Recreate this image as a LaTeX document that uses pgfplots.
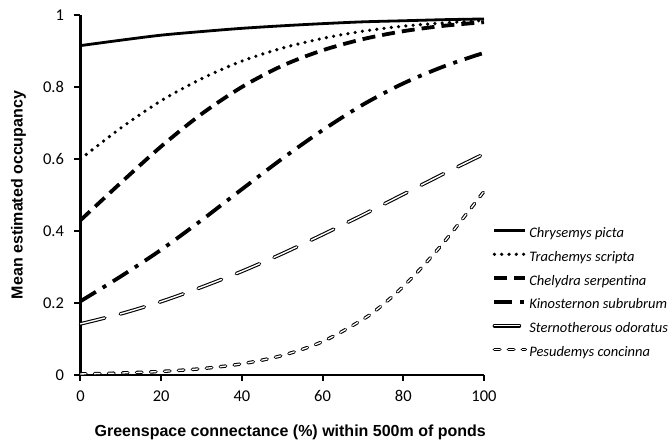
\documentclass[border=0pt]{standalone}
\usepackage{pgfplots}
\pgfplotsset{compat=1.18}
\usepackage{fontspec}
\setmainfont{Carlito}
\newfontfamily\arial{Liberation Sans}
\begin{document}
\begin{tikzpicture}[x=1pt,y=1pt]
\path[use as bounding box] (-80.5pt,-67pt) rectangle (591.5pt,375pt);
\begin{axis}[
  at={(0pt,0pt)}, anchor=south west,
  scale only axis, width=403.5pt, height=360pt,
  xmin=0, xmax=100, ymin=0, ymax=1,
  axis lines*=left,
  axis line style={line width=2.6pt, -},
  xtick={0,20,...,100}, ytick={0,0.2,...,1},
  yticklabels={0,0.2,0.4,0.6,0.8,1},
  tick style={line width=2pt, black},
  tick align=outside, major tick length=6pt,
  /pgf/number format/assume math mode=true,
  tick label style={font=\fontsize{16.5}{18}\selectfont},
  xticklabel style={yshift=-6pt},
  yticklabel style={xshift=-7pt},
  xlabel={\arial\bfseries Greenspace connectance (\%) within 500m of ponds},
  ylabel={\arial\bfseries Mean estimated occupancy},
  label style={font=\fontsize{16}{18}\selectfont},
  xlabel style={at={(0.5,0)}, anchor=center, yshift=-57pt, xshift=8pt},
  ylabel style={at={(0,0.5)}, anchor=center, yshift=62pt},
  clip=false,
  legend style={at={(412pt,148.5pt)}, anchor=north west, draw=none, fill=none,
    font=\fontsize{14.5}{18}\selectfont\itshape, row sep=8.8pt,
    inner sep=0pt, outer sep=0pt,
    nodes={inner sep=0pt, text height=11pt, text depth=4pt},
    cells={anchor=west}},
  legend cell align=left,
  legend image code/.code={\draw[#1] (0pt,3.5pt) -- (31pt,3.5pt);},
]
\addplot[black, line width=2.8pt, smooth] coordinates {(0,0.915)(10,0.930)(20,0.944)(30,0.954)(40,0.963)(50,0.970)(60,0.976)(70,0.981)(80,0.984)(90,0.987)(100,0.989)};
\addlegendentry{\hspace{2pt}Chrysemys picta}
\addplot[black, line width=3.6pt, line cap=round, dash pattern=on 0pt off 7.3pt, smooth] coordinates {(0,0.600)(10,0.686)(20,0.762)(30,0.823)(40,0.872)(50,0.908)(60,0.935)(70,0.955)(80,0.969)(90,0.978)(100,0.985)};
\addlegendentry{\hspace{2pt}Trachemys scripta}
\addplot[black, line width=3.8pt, dash pattern=on 13pt off 7pt, smooth] coordinates {(0,0.430)(10,0.534)(20,0.635)(30,0.725)(40,0.800)(50,0.859)(60,0.902)(70,0.933)(80,0.955)(90,0.970)(100,0.980)};
\addlegendentry{\hspace{2pt}Chelydra serpentina}
\addplot[black, line width=3.8pt, dash pattern=on 18pt off 8pt on 4pt off 8pt, smooth] coordinates {(0,0.205)(10,0.274)(20,0.348)(30,0.430)(40,0.516)(50,0.601)(60,0.680)(70,0.751)(80,0.810)(90,0.857)(100,0.895)};
\addlegendentry{\hspace{2pt}Kinosternon subrubrum}
\addplot[black, line width=3.6pt, line cap=round, dash pattern=on 25pt off 16pt, smooth,
  postaction={draw=white, line width=1.4pt, line cap=round, dash pattern=on 25pt off 16pt}] coordinates {(0,0.142)(10,0.170)(20,0.204)(30,0.244)(40,0.288)(50,0.337)(60,0.390)(70,0.445)(80,0.502)(90,0.559)(100,0.614)};
\addlegendentry{\hspace{2pt}Sternotherous odoratus}
\addplot[black, line width=3.4pt, line cap=round, dash pattern=on 5.5pt off 8.5pt, smooth,
  postaction={draw=white, line width=1.3pt, line cap=round, dash pattern=on 5.5pt off 8.5pt}] coordinates {(0,0.003)(10,0.0056)(20,0.0099)(30,0.0176)(40,0.0311)(50,0.0542)(60,0.0928)(70,0.1545)(75,0.196)(80,0.246)(85,0.304)(90,0.368)(95,0.438)(100,0.51)};
\addlegendentry{\hspace{2pt}Pesudemys concinna}
\end{axis}
\end{tikzpicture}
\end{document}
